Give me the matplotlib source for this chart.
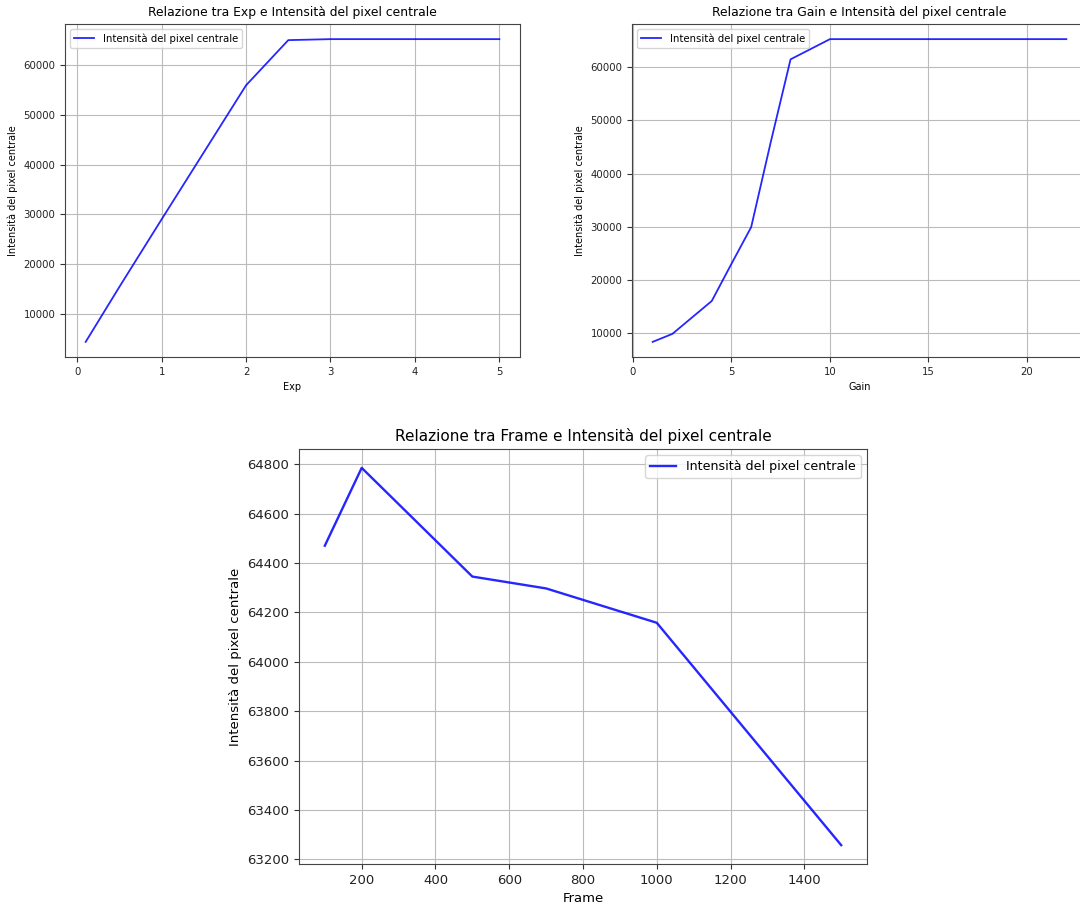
import matplotlib

matplotlib.use("Agg")

import matplotlib.pyplot as plt

LABEL = "Intensità del pixel centrale"

exp_vals = [0.1, 0.5, 1.0, 1.5, 2.0, 2.5, 3.0, 4.0, 5.0]
exp_int = [4300, 15400, 29000, 42500, 56000, 65100, 65300, 65300, 65300]

gain_vals = [1, 2, 3, 4, 4.5, 5, 6, 7, 8, 9, 10, 12, 14, 16, 18, 20, 22]
gain_int = [8300, 9800, 12900, 16000, 19500, 23000, 29900, 46000, 61500,
            63400, 65300, 65300, 65300, 65300, 65300, 65300, 65300]

frame_vals = [100, 200, 500, 700, 1000, 1500]
frame_int = [64470, 64785, 64345, 64297, 64158, 63258]

W, H = 1080, 907
fig = plt.figure(figsize=(W / 100, H / 100), dpi=100)


def _axes(x0, y0, x1, y1):
    # pixel box (top-left origin) -> figure fraction
    return fig.add_axes([x0 / W, 1 - y1 / H, (x1 - x0) / W, (y1 - y0) / H])


def _panel(ax, x, y, name, fs_tick, fs_label, fs_title, lw):
    ax.plot(x, y, color="blue", alpha=0.85, lw=lw, label=LABEL)
    ax.set_title(f"Relazione tra {name} e {LABEL}", fontsize=fs_title)
    ax.set_xlabel(name, fontsize=fs_label)
    ax.set_ylabel(LABEL, fontsize=fs_label)
    ax.tick_params(labelsize=fs_tick, colors="#333333", labelcolor="#222222")
    for s in ax.spines.values():
        s.set_color("#444444")
    ax.grid(True, color="#bbbbbb", lw=0.8)


ax1 = _axes(65, 24, 520, 357)
_panel(ax1, exp_vals, exp_int, "Exp", 7.3, 7, 8.9, 1.3)
ax1.legend(loc="upper left", fontsize=7.3)

ax2 = _axes(632, 24, 1087, 357)
_panel(ax2, gain_vals, gain_int, "Gain", 7.3, 7, 8.9, 1.3)
ax2.legend(loc="upper left", fontsize=7.3)

ax3 = _axes(299, 449, 867, 864)
_panel(ax3, frame_vals, frame_int, "Frame", 9.5, 9.5, 11, 1.7)
ax3.legend(loc="upper right", fontsize=9.1)

fig.savefig("out.png", dpi=100)
